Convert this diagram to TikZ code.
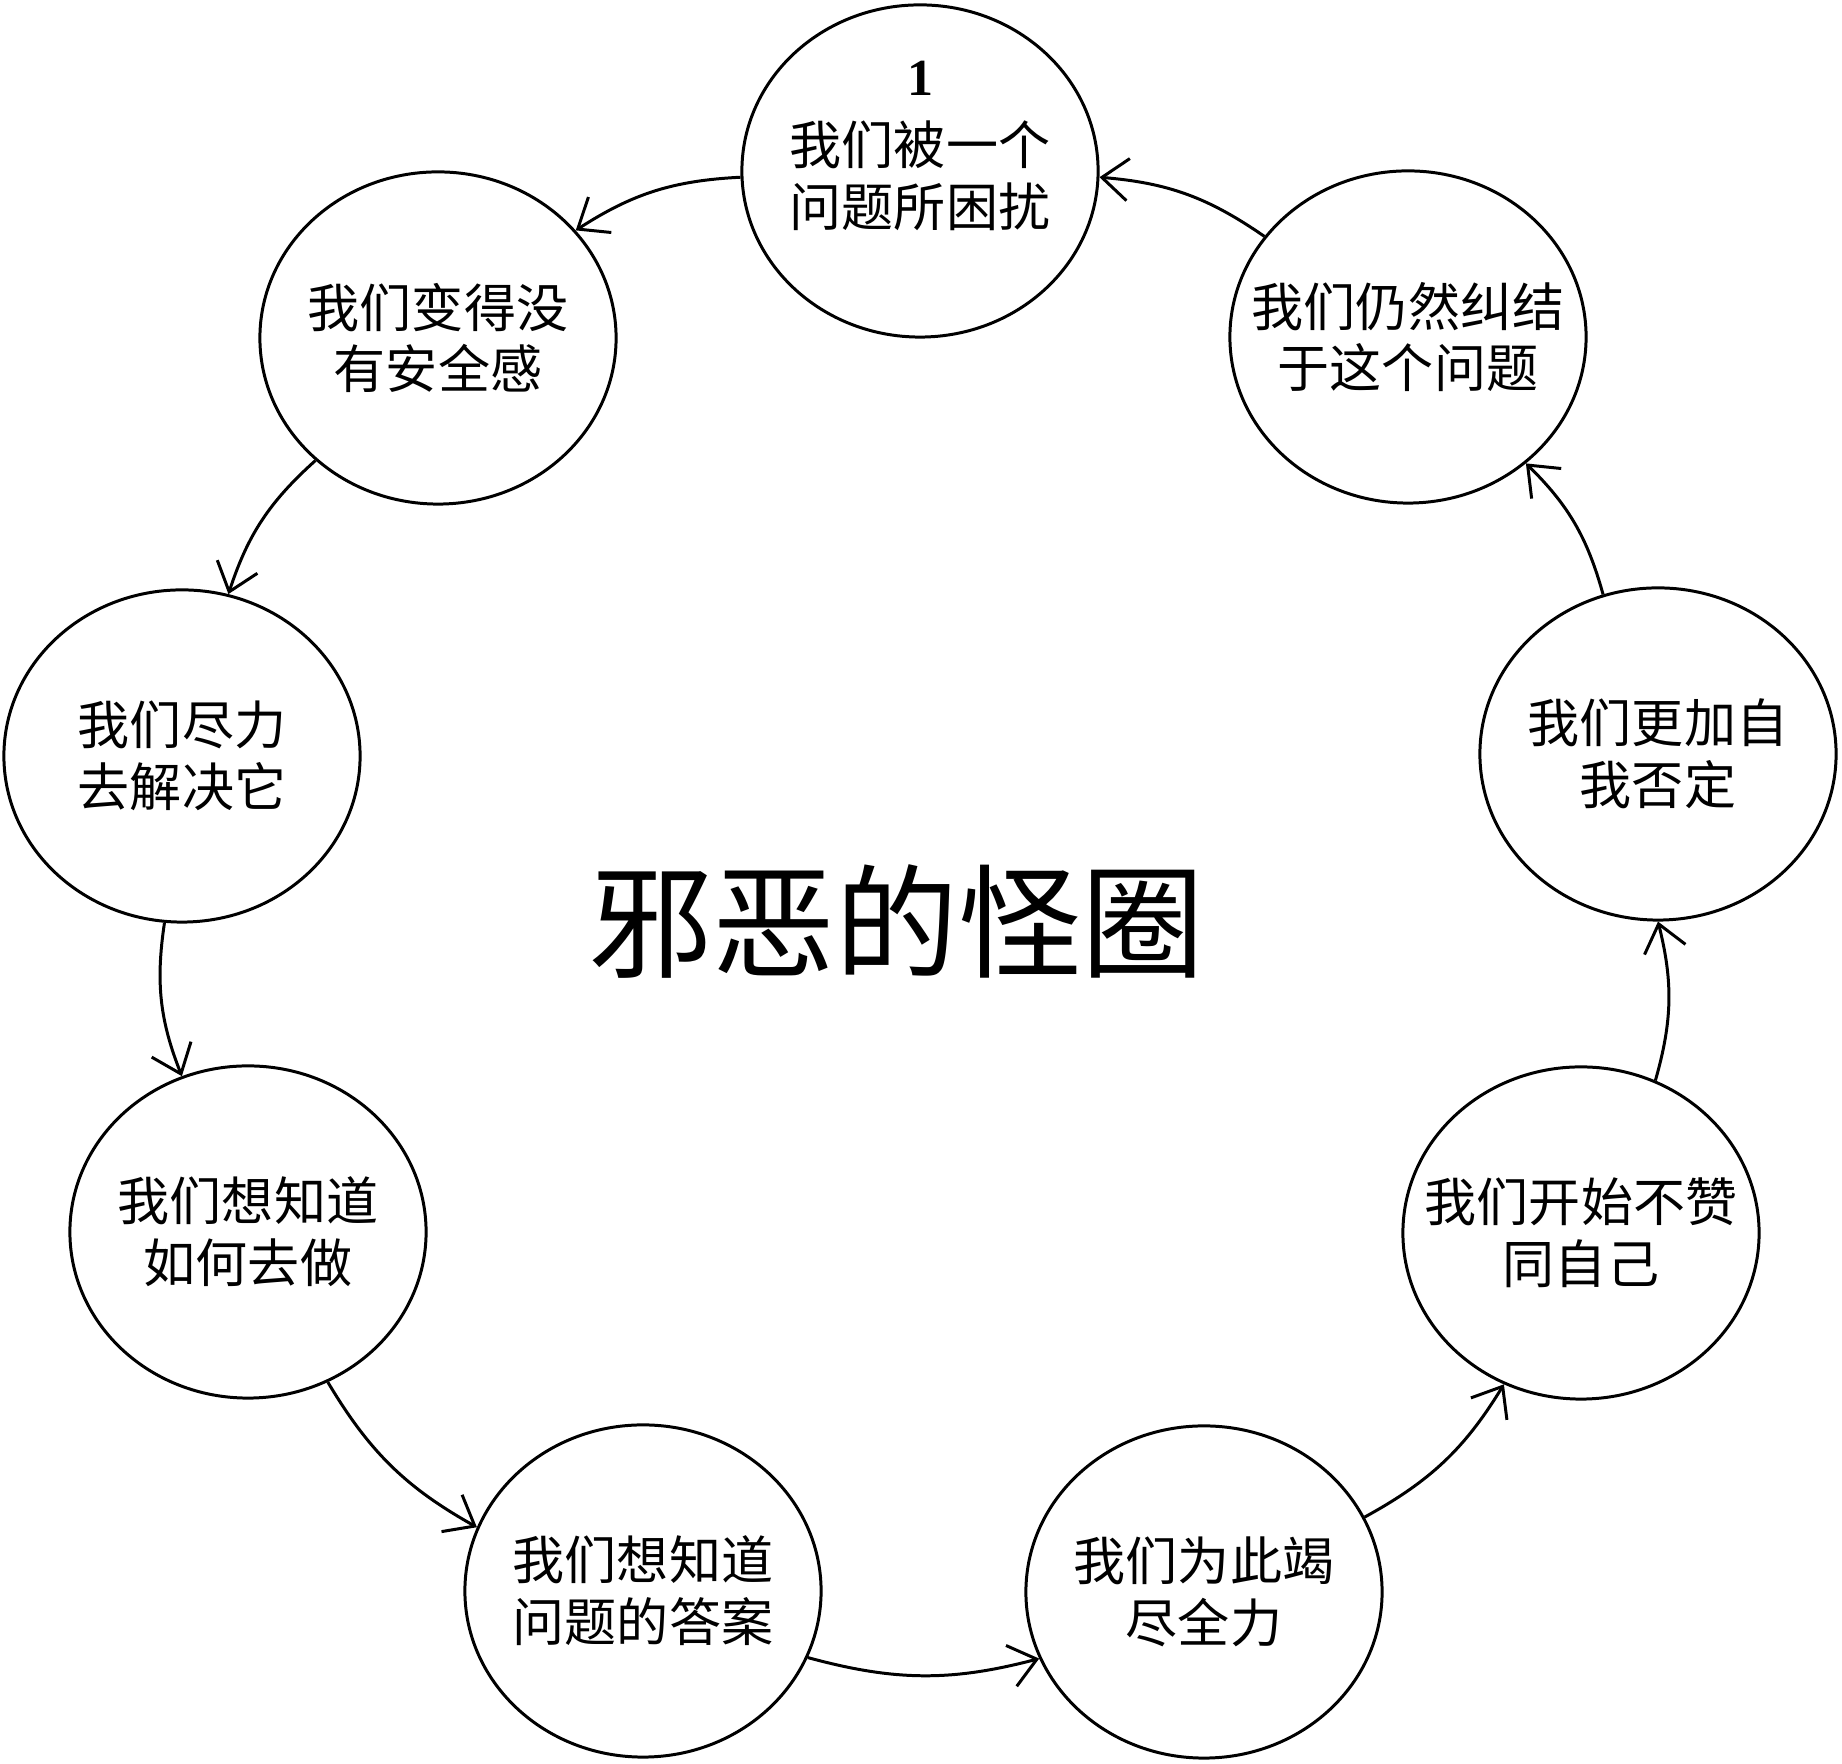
\documentclass[tikz,border=0pt]{standalone}
\usepackage{fontspec}
\setmainfont{Liberation Serif}
\newfontfamily\cjk{Noto Sans CJK SC}
\usetikzlibrary{shapes.geometric,arrows.meta}

\tikzset{
  bubble/.style={draw, ellipse, line width=0.85pt, minimum width=3.56cm, minimum height=3.32cm, inner sep=0pt},
  bubbletext/.style={align=center, font=\cjk\fontsize{14.8}{17.6}\selectfont},
  flow/.style={-{Straight Barb[length=7.5pt,width=12pt]}, line width=0.85pt},
}

\begin{document}
\begin{tikzpicture}[x=0.01cm,y=0.01cm]
\useasboundingbox (0,0) rectangle (1842,1764);

% title in the middle
\node[font=\cjk\fontsize{35}{40}\selectfont] (title) at (897,842) {邪恶的怪圈};

% step 1 at the top
\node[bubble] (c1) at (920,1593) {};
\node[bubbletext] (t1) at (920,1618) {{\rmfamily\bfseries 1}\\[2pt]我们被一个\\问题所困扰};

% left side, going down
\node[bubble] (c2) at (438,1426) {};
\node[bubbletext] (t2) at (438,1426) {我们变得没\\有安全感};
\node[bubble] (c3) at (182,1008) {};
\node[bubbletext] (t3) at (182,1008) {我们尽力\\去解决它};
\node[bubble] (c4) at (248,532) {};
\node[bubbletext] (t4) at (248,532) {我们想知道\\如何去做};
\node[bubble] (c5) at (643,173) {};
\node[bubbletext] (t5) at (643,173) {我们想知道\\问题的答案};

% right side, going up
\node[bubble] (c6) at (1204,172) {};
\node[bubbletext] (t6) at (1204,172) {我们为此竭\\尽全力};
\node[bubble] (c7) at (1581,531) {};
\node[bubbletext] (t7) at (1581,531) {我们开始不赞\\同自己};
\node[bubble] (c8) at (1658,1010) {};
\node[bubbletext] (t8) at (1658,1010) {我们更加自\\我否定};
\node[bubble] (c9) at (1408,1427) {};
\node[bubbletext] (t9) at (1408,1427) {我们仍然纠结\\于这个问题};

% the loop
\draw[flow] (c1.182) to[bend right=15] (c2.38);
\draw[flow] (c2.225) to[bend right=15] (c3.74);
\draw[flow] (c3.264) to[bend right=15] (c4.113);
\draw[flow] (c4.298) to[bend right=15] (c5.159);
\draw[flow] (c5.338) to[bend right=15] (c6.202);
\draw[flow] (c6.25) to[bend right=15] (c7.243);
\draw[flow] (c7.64) to[bend right=15] (c8.270);
\draw[flow] (c8.109) to[bend right=15] (c9.313);
\draw[flow] (c9.145) to[bend right=15] (c1.358);
\end{tikzpicture}
\end{document}
